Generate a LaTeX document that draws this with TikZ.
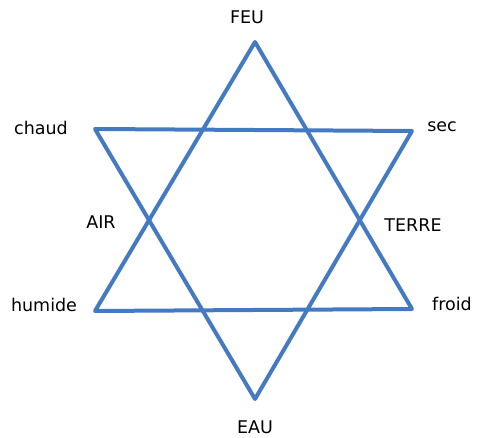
\documentclass[tikz,border=0pt]{standalone}
\usepackage{fontspec}
\setmainfont{DejaVu Sans}
\definecolor{starblue}{RGB}{68,122,193}
\begin{document}
\begin{tikzpicture}[x=1pt, y=-1pt, line join=round]
  \useasboundingbox (0,0) rectangle (477,438);
  \tikzset{elem/.style={inner sep=0pt, font=\fontsize{17.5}{20}\selectfont},
           edge/.style={draw=starblue, line width=4pt}}
  % sommets
  \coordinate (top) at (255,42);
  \coordinate (bot) at (255,399);
  \coordinate (ul) at (95,129);
  \coordinate (ur) at (412,131);
  \coordinate (ll) at (95,311);
  \coordinate (lr) at (412,309);
  % triangles
  \draw[edge] (top) -- (ll) -- (lr) -- cycle;
  \draw[edge] (ul) -- (ur) -- (bot) -- cycle;
  % qualites et elements
  \node[elem] (feu) at (247,17) {FEU};
  \node[elem] (eau) at (255,427) {EAU};
  \node[elem] (chaud) at (41,128) {chaud};
  \node[elem] (sec) at (442,127) {sec};
  \node[elem] (air) at (101,222) {AIR};
  \node[elem] (terre) at (413,225) {TERRE};
  \node[elem] (humide) at (44,305) {humide};
  \node[elem] (froid) at (452,304) {froid};
\end{tikzpicture}
\end{document}
